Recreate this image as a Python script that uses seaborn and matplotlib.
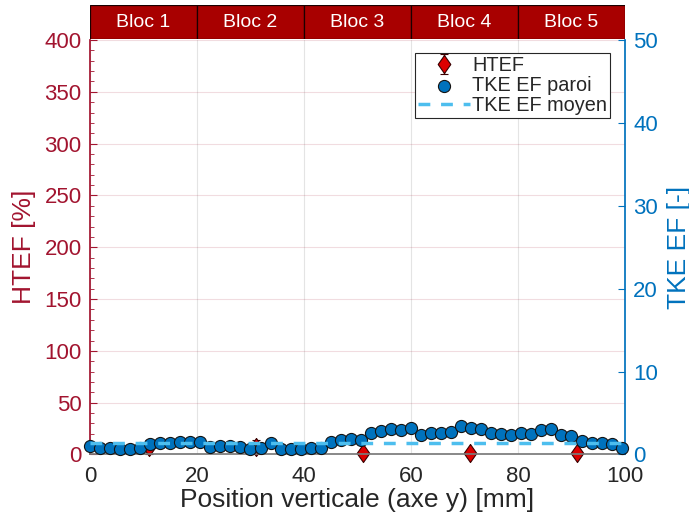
import matplotlib
matplotlib.use("Agg")
import numpy as np
import matplotlib.pyplot as plt
import seaborn as sns
from matplotlib.ticker import MultipleLocator

# Blocs (bandeau du haut)
blocs = ["Bloc 1", "Bloc 2", "Bloc 3", "Bloc 4", "Bloc 5"]
bloc_centres = [10, 30, 50, 70, 90]

# HTEF par bloc [%]
htef_x = [11, 31, 51, 71, 91]
htef = [7, 7, 1.2, 1.2, 1.2]
htef_err = [7, 7, 0.6, 0.6, 0.6]

# TKE EF le long de la paroi [-]
position_mm = [0, 1.875, 3.75, 5.625, 7.5, 9.375, 11.25, 13.125, 15, 16.875,
               18.75, 20.625, 22.5, 24.375, 26.25, 28.125, 30, 31.875, 33.75, 35.625,
               37.5, 39.375, 41.25, 43.125, 45, 46.875, 48.75, 50.625, 52.5, 54.375,
               56.25, 58.125, 60, 61.875, 63.75, 65.625, 67.5, 69.375, 71.25, 73.125,
               75, 76.875, 78.75, 80.625, 82.5, 84.375, 86.25, 88.125, 90, 91.875,
               93.75, 95.625, 97.5, 99.375]
tke_paroi = [1.06, 0.75, 0.82, 0.66, 0.66, 0.82, 1.23, 1.35, 1.35, 1.54,
             1.54, 1.54, 0.90, 1.03, 1.06, 0.94, 0.66, 0.75, 1.35, 0.66,
             0.66, 0.66, 0.75, 0.82, 1.54, 1.69, 1.81, 1.71, 2.59, 2.80,
             3.04, 2.92, 3.20, 2.40, 2.63, 2.65, 2.71, 3.44, 3.16, 3.04,
             2.59, 2.44, 2.35, 2.56, 2.45, 2.96, 3.12, 2.32, 2.29, 1.66,
             1.35, 1.35, 1.23, 0.75]

# TKE EF moyen
moyen_x = [0, 100]
moyen_y = [1.35, 1.35]

sns.set_theme(style="white")
plt.rcParams['font.family'] = ['Liberation Sans', 'DejaVu Sans']

rouge = '#A2142F'
bleu = '#0072BD'
cyan = '#4DBEEE'
gris = '#262626'

fig = plt.figure(figsize=(6.89, 5.19), dpi=100)
ax = fig.add_axes([0.1306, 0.1243, 0.7765, 0.7986])
ax_h = fig.add_axes([0.1306, 0.9245, 0.7765, 0.0661])

# diamant un peu plus haut que large
diamant = [(0, 1), (0.7, 0), (0, -1), (-0.7, 0), (0, 1)]

eb = ax.errorbar(htef_x, htef, yerr=htef_err, linestyle='none', ecolor='#3a0000',
                 elinewidth=1.0, capsize=3, capthick=1.0, marker=diamant,
                 markersize=13, markerfacecolor='#DD0000', markeredgecolor='#3a0000',
                 markeredgewidth=0.8, zorder=2, label='HTEF')
eb.lines[0].set_clip_on(False)
for art in eb.lines[1] + eb.lines[2]:
    art.set_clip_on(False)

ax.set_xlim(0, 100)
ax.set_ylim(0, 400)
ax.set_yticks(np.arange(0, 401, 50))
ax.yaxis.set_minor_locator(MultipleLocator(10))
ax.set_xticks(np.arange(0, 101, 20))
ax.tick_params(axis='y', which='both', colors=rouge, labelsize=16, direction='in', pad=6)
ax.tick_params(axis='y', which='major', length=5, width=0.8)
ax.tick_params(axis='y', which='minor', length=3, width=0.6, left=True)
ax.tick_params(axis='x', colors='#7a7a7a', labelcolor=gris, labelsize=16,
               direction='in', length=5, pad=8)
ax.grid(axis='y', color=rouge, alpha=0.15, linewidth=0.8)
ax.grid(axis='x', color=gris, alpha=0.12, linewidth=0.8)
ax.spines['left'].set_color(rouge)
ax.spines['bottom'].set_color('#7a7a7a')
ax.spines['top'].set_visible(False)
ax.spines['right'].set_visible(False)
ax.set_xlabel("Position verticale (axe y) [mm]", fontsize=19, color=gris, labelpad=1)
ax.set_ylabel("HTEF [%]", fontsize=19, color=rouge, labelpad=6)

ax2 = ax.twinx()
sns.scatterplot(x=position_mm, y=tke_paroi, ax=ax2, s=76, color=bleu,
                edgecolor='#141414', linewidth=0.8, zorder=3, clip_on=False,
                label='TKE EF paroi')
sns.lineplot(x=moyen_x, y=moyen_y, ax=ax2, color=cyan, linewidth=2.5,
             label='TKE EF moyen', zorder=4)
ligne = ax2.get_lines()[-1]
ligne.set_linestyle((0, (3.4, 3.1)))

ax2.set_ylim(0, 50)
ax2.set_yticks(np.arange(0, 51, 10))
ax2.tick_params(axis='y', colors=bleu, labelsize=16, direction='in', length=5,
                width=0.8, pad=6)
ax2.spines['right'].set_color(bleu)
ax2.spines['left'].set_visible(False)
ax2.spines['top'].set_visible(False)
ax2.spines['bottom'].set_visible(False)
ax2.set_ylabel("TKE EF [-]", fontsize=19, color=bleu, labelpad=6)

h2, l2 = ax2.get_legend_handles_labels()
leg = ax2.legend([eb] + h2, ['HTEF'] + l2, loc='upper right',
                 bbox_to_anchor=(0.972, 0.969), fontsize=14.3, frameon=True,
                 fancybox=False, framealpha=1, edgecolor=gris, borderpad=0.15,
                 labelspacing=0.05, handlelength=2.6, handletextpad=0.1,
                 borderaxespad=0)
leg.get_frame().set_linewidth(0.8)

# Bandeau des blocs
ax_h.bar(bloc_centres, [1] * 5, width=20, color='#A80000', edgecolor='#1a0000',
         linewidth=0.9)
for c, nom in zip(bloc_centres, blocs):
    ax_h.text(c, 0.5, nom, color='white', fontsize=14, ha='center', va='center')
ax_h.set_xlim(0, 100)
ax_h.set_ylim(0, 1)
ax_h.axis('off')

fig.savefig("out.png", dpi=100)
